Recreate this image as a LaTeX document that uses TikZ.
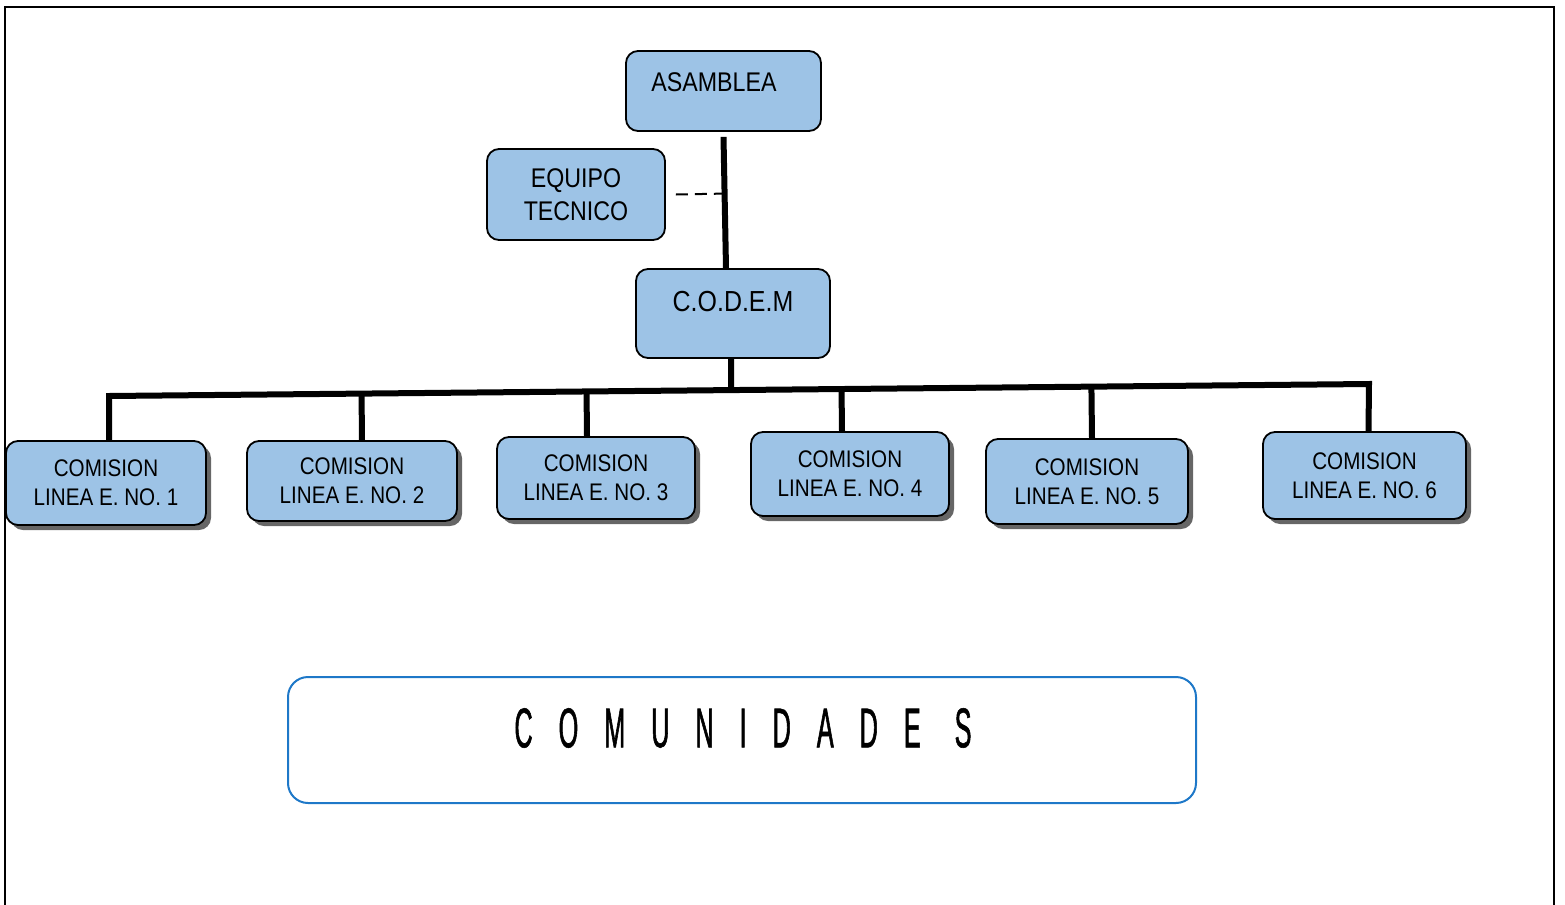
\documentclass[tikz,border=0pt]{standalone}
\usepackage{fontspec}
\setmainfont[FakeStretch=0.86]{Liberation Sans}
\newfontfamily\comufont[FakeStretch=0.45, FakeBold=1]{Liberation Sans}
\usetikzlibrary{shadows,calc}
\definecolor{boxblue}{RGB}{157,195,230}
\definecolor{comublue}{RGB}{30,120,200}
\tikzset{
    unit/.style={draw=black, line width=0.9pt, rounded corners=6pt, fill=boxblue, inner sep=0pt, align=center},
    comision/.style={unit, font=\fontsize{12}{14.5}\selectfont,
        drop shadow={shadow xshift=2.5pt, shadow yshift=-2.5pt, fill=black!75, opacity=0.8}},
    wire/.style={line width=3pt},
    txt/.style={inner sep=0pt},
}
\newcommand\gap{\hspace{13pt}}

\begin{document}
\begin{tikzpicture}[x=0.5pt, y=-0.5pt]
    \useasboundingbox (0,0) rectangle (1565,905);
    % frame
    \draw[line width=1.3pt] (5,905) -- (5,7) -- (1554,7) -- (1554,905);
    % Paths, nodes and wires:
    \node[unit, minimum width=97.5pt, minimum height=40pt] (asam) at (723.5,91) {};
    \node[txt, font=\fontsize{13.5}{16}\selectfont] (asamT) at (714,82) {ASAMBLEA};
    \node[unit, minimum width=89pt, minimum height=45.5pt, font=\fontsize{13.5}{16.5}\selectfont] (equipo) at (576,194.5) {EQUIPO\\TECNICO};
    \node[unit, minimum width=97pt, minimum height=44.5pt] (codem) at (733,313.5) {};
    \node[txt, font=\fontsize{14.5}{17}\selectfont] (codemT) at (733,302) {C.O.D.E.M};
    \node[comision, minimum width=100pt, minimum height=42pt] (c1) at (106,483) {COMISION\\LINEA E. NO. 1};
    \node[comision, minimum width=105pt, minimum height=40pt] (c2) at (352,481) {COMISION\\LINEA E. NO. 2};
    \node[comision, minimum width=99pt, minimum height=41pt] (c3) at (596,478) {COMISION\\LINEA E. NO. 3};
    \node[comision, minimum width=99pt, minimum height=42pt] (c4) at (850,474) {COMISION\\LINEA E. NO. 4};
    \node[comision, minimum width=101pt, minimum height=42.5pt] (c5) at (1087,481.5) {COMISION\\LINEA E. NO. 5};
    \node[comision, minimum width=101.5pt, minimum height=43.5pt] (c6) at (1364.5,475.5) {COMISION\\LINEA E. NO. 6};
    \draw[wire] ([yshift=-2.5pt]asam.south) coordinate (vtop) -- ([xshift=-3.5pt]codem.north) coordinate (vbot);
    \draw[line width=1pt, dash pattern=on 6pt off 3.5pt] ([xshift=5pt]equipo.east) -- ($(vtop)!([xshift=5pt]equipo.east)!(vbot)$);
    \coordinate (busL) at (109,396);
    \coordinate (busR) at (1369,384);
    \draw[wire] ([xshift=1.5pt]c1.north) -- (busL) -- (busR) -- ([xshift=2pt]c6.north);
    \draw[wire] ([xshift=-1pt]codem.south) -- ($(busL)!([xshift=-1pt]codem.south)!(busR)$);
    \draw[wire] ([xshift=5pt]c2.north) -- ($(busL)!([xshift=5pt]c2.north)!(busR)$);
    \draw[wire] ([xshift=-4.5pt]c3.north) -- ($(busL)!([xshift=-4.5pt]c3.north)!(busR)$);
    \draw[wire] ([xshift=-4pt]c4.north) -- ($(busL)!([xshift=-4pt]c4.north)!(busR)$);
    \draw[wire] ([xshift=2.5pt]c5.north) -- ($(busL)!([xshift=2.5pt]c5.north)!(busR)$);
    % comunidades
    \node[draw=comublue, line width=1pt, rounded corners=10pt, minimum width=454pt, minimum height=63pt] (comu) at (742,740) {};
    \node[txt, font=\comufont\fontsize{28}{30}\selectfont] (comuT) at (743,728) {C\gap O\gap M\gap U\gap N\gap I\gap D\gap A\gap D\gap E\gap\hspace{4pt}S};
\end{tikzpicture}
\end{document}
